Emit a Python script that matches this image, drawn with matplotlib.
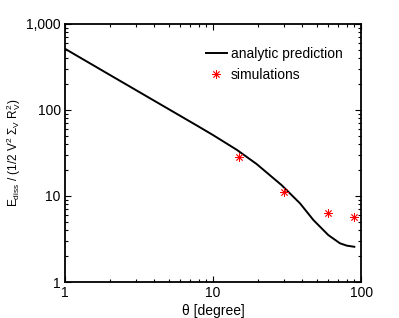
import matplotlib
matplotlib.use("Agg")
from matplotlib import pyplot as plt
from matplotlib.ticker import FixedLocator, FixedFormatter, LogLocator, NullFormatter

plt.rcParams['font.family'] = ['Liberation Sans', 'DejaVu Sans']
plt.rcParams['mathtext.fontset'] = 'custom'
plt.rcParams['mathtext.rm'] = 'Liberation Sans'
plt.rcParams['mathtext.it'] = 'Liberation Sans:italic'

# analytic prediction curve
theta_line = [1, 2, 4, 8, 10, 14.5, 19.7, 29, 38.7, 47.6, 60, 72, 80, 90]
e_line = [513, 256, 128, 64, 51, 34.3, 23.5, 13.4, 8.2, 5.26, 3.52, 2.82, 2.65, 2.57]

# simulations
theta_sim = [15, 30, 60, 90]
e_sim = [28.6, 11.0, 6.3, 5.65]

fig = plt.figure(figsize=(3.99, 3.18), dpi=100)
ax = fig.add_axes([0.163, 0.113, 0.742, 0.812])

ax.plot(theta_line, e_line, color='black', lw=1.4, label='analytic prediction')
ax.plot(theta_sim, e_sim, ls='none', marker=(8, 2, 0), ms=6, mew=0.6,
        color='red', label='simulations')

ax.set_xscale('log')
ax.set_yscale('log')
ax.set_xlim(1, 100)
ax.set_ylim(1, 1000)

ax.xaxis.set_major_locator(FixedLocator([1, 10, 100]))
ax.xaxis.set_major_formatter(FixedFormatter(['1', '10', '100']))
ax.yaxis.set_major_locator(FixedLocator([1, 10, 100, 1000]))
ax.yaxis.set_major_formatter(FixedFormatter(['1', '10', '100', '1,000']))
ax.xaxis.set_minor_locator(LogLocator(subs=range(2, 10)))
ax.yaxis.set_minor_locator(LogLocator(subs=range(2, 10)))
ax.xaxis.set_minor_formatter(NullFormatter())
ax.yaxis.set_minor_formatter(NullFormatter())

ax.tick_params(which='both', direction='in', top=True, right=True, labelsize=10, width=0.8)
ax.tick_params(which='major', length=4, pad=3)
ax.tick_params(which='minor', length=2)
for s in ax.spines.values():
    s.set_linewidth(1.3)

ax.set_xlabel('θ [degree]', fontsize=10, labelpad=3)
ax.set_ylabel(r'E$_{\mathrm{diss}}$ / (1/2 V$^2$ $\Sigma_{\mathrm{V}}$ R$_{\mathrm{V}}^2$)',
              fontsize=8.5, labelpad=2)

ax.legend(loc='upper right', frameon=False, fontsize=10, handlelength=1.5,
          handletextpad=0.3, labelspacing=0.55, bbox_to_anchor=(0.98, 0.96))

fig.savefig('out.png', dpi=100)
